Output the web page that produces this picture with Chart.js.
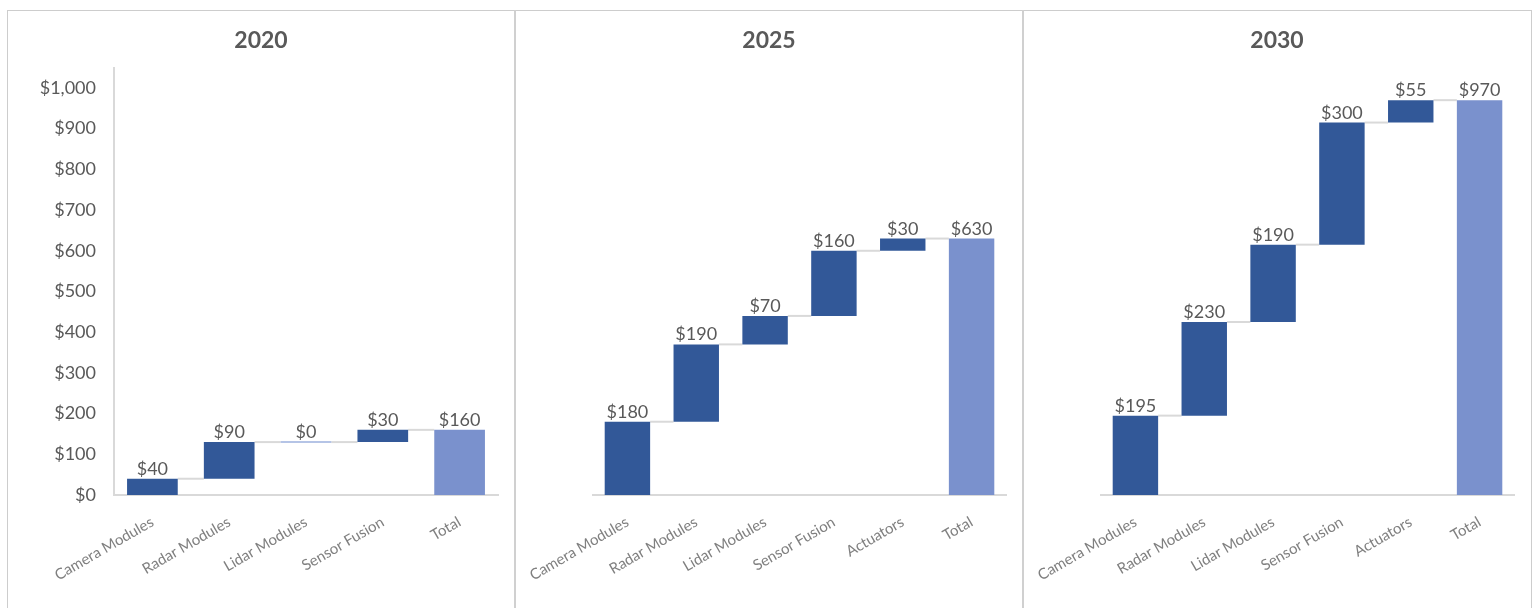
<!DOCTYPE html>
<html>
<head>
<meta charset="utf-8">
<script src="https://cdn.jsdelivr.net/npm/chart.js@4.4.1/dist/chart.umd.min.js"></script>
<style>
  html, body { margin: 0; padding: 0; background: #ffffff; width: 1532px; height: 608px; overflow: hidden; }
  .panel { position: absolute; top: 10px; width: 508px; height: 598px; }
  .frame { position: absolute; top: 10px; left: 7px; width: 1523px; height: 700px; border: 1px solid #cdcdcd; pointer-events: none; }
  .divider { position: absolute; top: 10px; width: 2px; height: 700px; background: #d0d0d0; pointer-events: none; }
</style>
</head>
<body>
<div class="panel" style="left:7px"><canvas id="chart2020" width="508" height="598"></canvas></div>
<div class="panel" style="left:515px"><canvas id="chart2025" width="508" height="598"></canvas></div>
<div class="panel" style="left:1023px"><canvas id="chart2030" width="508" height="598"></canvas></div>
<div class="frame"></div>
<div class="divider" style="left:514px"></div>
<div class="divider" style="left:1022px"></div>

<script>
// Sensor-suite cost build-up per vehicle, by year (USD)
const years = ['2020', '2025', '2030'];

const categories2020 = ['Camera Modules', 'Radar Modules', 'Lidar Modules', 'Sensor Fusion', 'Total'];
const categories2025 = ['Camera Modules', 'Radar Modules', 'Lidar Modules', 'Sensor Fusion', 'Actuators', 'Total'];
const categories2030 = ['Camera Modules', 'Radar Modules', 'Lidar Modules', 'Sensor Fusion', 'Actuators', 'Total'];

const steps2020 = [40, 90, 0, 30];
const steps2025 = [180, 190, 70, 160, 30];
const steps2030 = [195, 230, 190, 300, 55];

const totals = [160, 630, 970];

const yAxisMax = 1050;
const yAxisStep = 100;

const STEP_COLOR = '#325898';
const TOTAL_COLOR = '#7A91CD';
const ZERO_STEP_COLOR = '#9DB1DE';
const CONNECTOR_COLOR = '#d9d9d9';
const AXIS_COLOR = '#d9d9d9';
const TEXT_DARK = '#595959';
const TEXT_LIGHT = '#808080';
const FONT = 'Lato';

const money = v => '$' + Number(v).toLocaleString('en-US');

// Connector lines between steps, value labels above each bar
const waterfallPlugin = {
  id: 'waterfall',
  beforeDatasetsDraw(chart) {
    const meta = chart.getDatasetMeta(0);
    const ctx = chart.ctx;
    ctx.save();
    ctx.strokeStyle = CONNECTOR_COLOR;
    ctx.lineWidth = 2;
    for (let i = 0; i < meta.data.length - 1; i++) {
      const a = meta.data[i];
      const b = meta.data[i + 1];
      const y = Math.min(a.y, a.base);
      ctx.beginPath();
      ctx.moveTo(a.x + a.width / 2, y);
      ctx.lineTo(b.x - b.width / 2, y);
      ctx.stroke();
    }
    ctx.restore();
  },
  afterDatasetsDraw(chart) {
    const meta = chart.getDatasetMeta(0);
    const values = chart.data.datasets[0].valueLabels;
    const ctx = chart.ctx;
    ctx.save();
    meta.data.forEach((el, i) => {
      const top = Math.min(el.y, el.base);
      if (Math.abs(el.y - el.base) < 0.5) {
        ctx.strokeStyle = ZERO_STEP_COLOR;
        ctx.lineWidth = 1.5;
        ctx.beginPath();
        ctx.moveTo(el.x - el.width / 2, top);
        ctx.lineTo(el.x + el.width / 2, top);
        ctx.stroke();
      }
      ctx.fillStyle = TEXT_DARK;
      ctx.font = '18px ' + FONT;
      ctx.textAlign = 'center';
      ctx.textBaseline = 'alphabetic';
      ctx.fillText(money(values[i]), el.x, top - 4);
    });
    ctx.restore();
  }
};

function buildWaterfall(canvasId, year, categories, steps, total, showYAxis) {
  const ranges = [];
  let running = 0;
  steps.forEach(v => { ranges.push([running, running + v]); running += v; });
  ranges.push([0, total]);
  const colors = steps.map(() => STEP_COLOR).concat([TOTAL_COLOR]);

  return new Chart(document.getElementById(canvasId), {
    type: 'bar',
    data: {
      labels: categories,
      datasets: [{
        data: ranges,
        valueLabels: steps.concat([total]),
        backgroundColor: colors,
        borderWidth: 0,
        barPercentage: 0.66,
        categoryPercentage: 1
      }]
    },
    options: {
      responsive: false,
      animation: false,
      layout: { padding: { left: 17, right: 17 } },
      plugins: {
        legend: { display: false },
        tooltip: { enabled: false },
        title: {
          display: true,
          text: year,
          color: TEXT_DARK,
          font: { family: FONT, size: 23, weight: 'bold' },
          padding: { top: 17, bottom: 13 }
        }
      },
      scales: {
        x: {
          grid: { display: false, drawTicks: false },
          border: { display: true, color: AXIS_COLOR, width: 2 },
          ticks: {
            color: TEXT_LIGHT,
            font: { family: FONT, size: 15 },
            minRotation: 30,
            maxRotation: 30,
            autoSkip: false,
            padding: 18
          },
          afterFit: s => {
            s.height = 113;
            // rotated labels may hang past the plot edges; keep the plot width fixed
            s.paddingLeft = 0;
            s.paddingRight = 0;
          }
        },
        y: {
          min: 0,
          max: yAxisMax,
          grid: { display: false, drawTicks: false },
          border: { display: showYAxis, color: AXIS_COLOR, width: 2 },
          ticks: {
            display: showYAxis,
            stepSize: yAxisStep,
            includeBounds: false,
            color: TEXT_DARK,
            font: { family: FONT, size: 18 },
            padding: 18,
            callback: v => money(v)
          },
          afterFit: s => { s.width = showYAxis ? 90 : 61; }
        }
      }
    },
    plugins: [waterfallPlugin]
  });
}

buildWaterfall('chart2020', years[0], categories2020, steps2020, totals[0], true);
buildWaterfall('chart2025', years[1], categories2025, steps2025, totals[1], false);
buildWaterfall('chart2030', years[2], categories2030, steps2030, totals[2], false);
</script>
</body>
</html>
